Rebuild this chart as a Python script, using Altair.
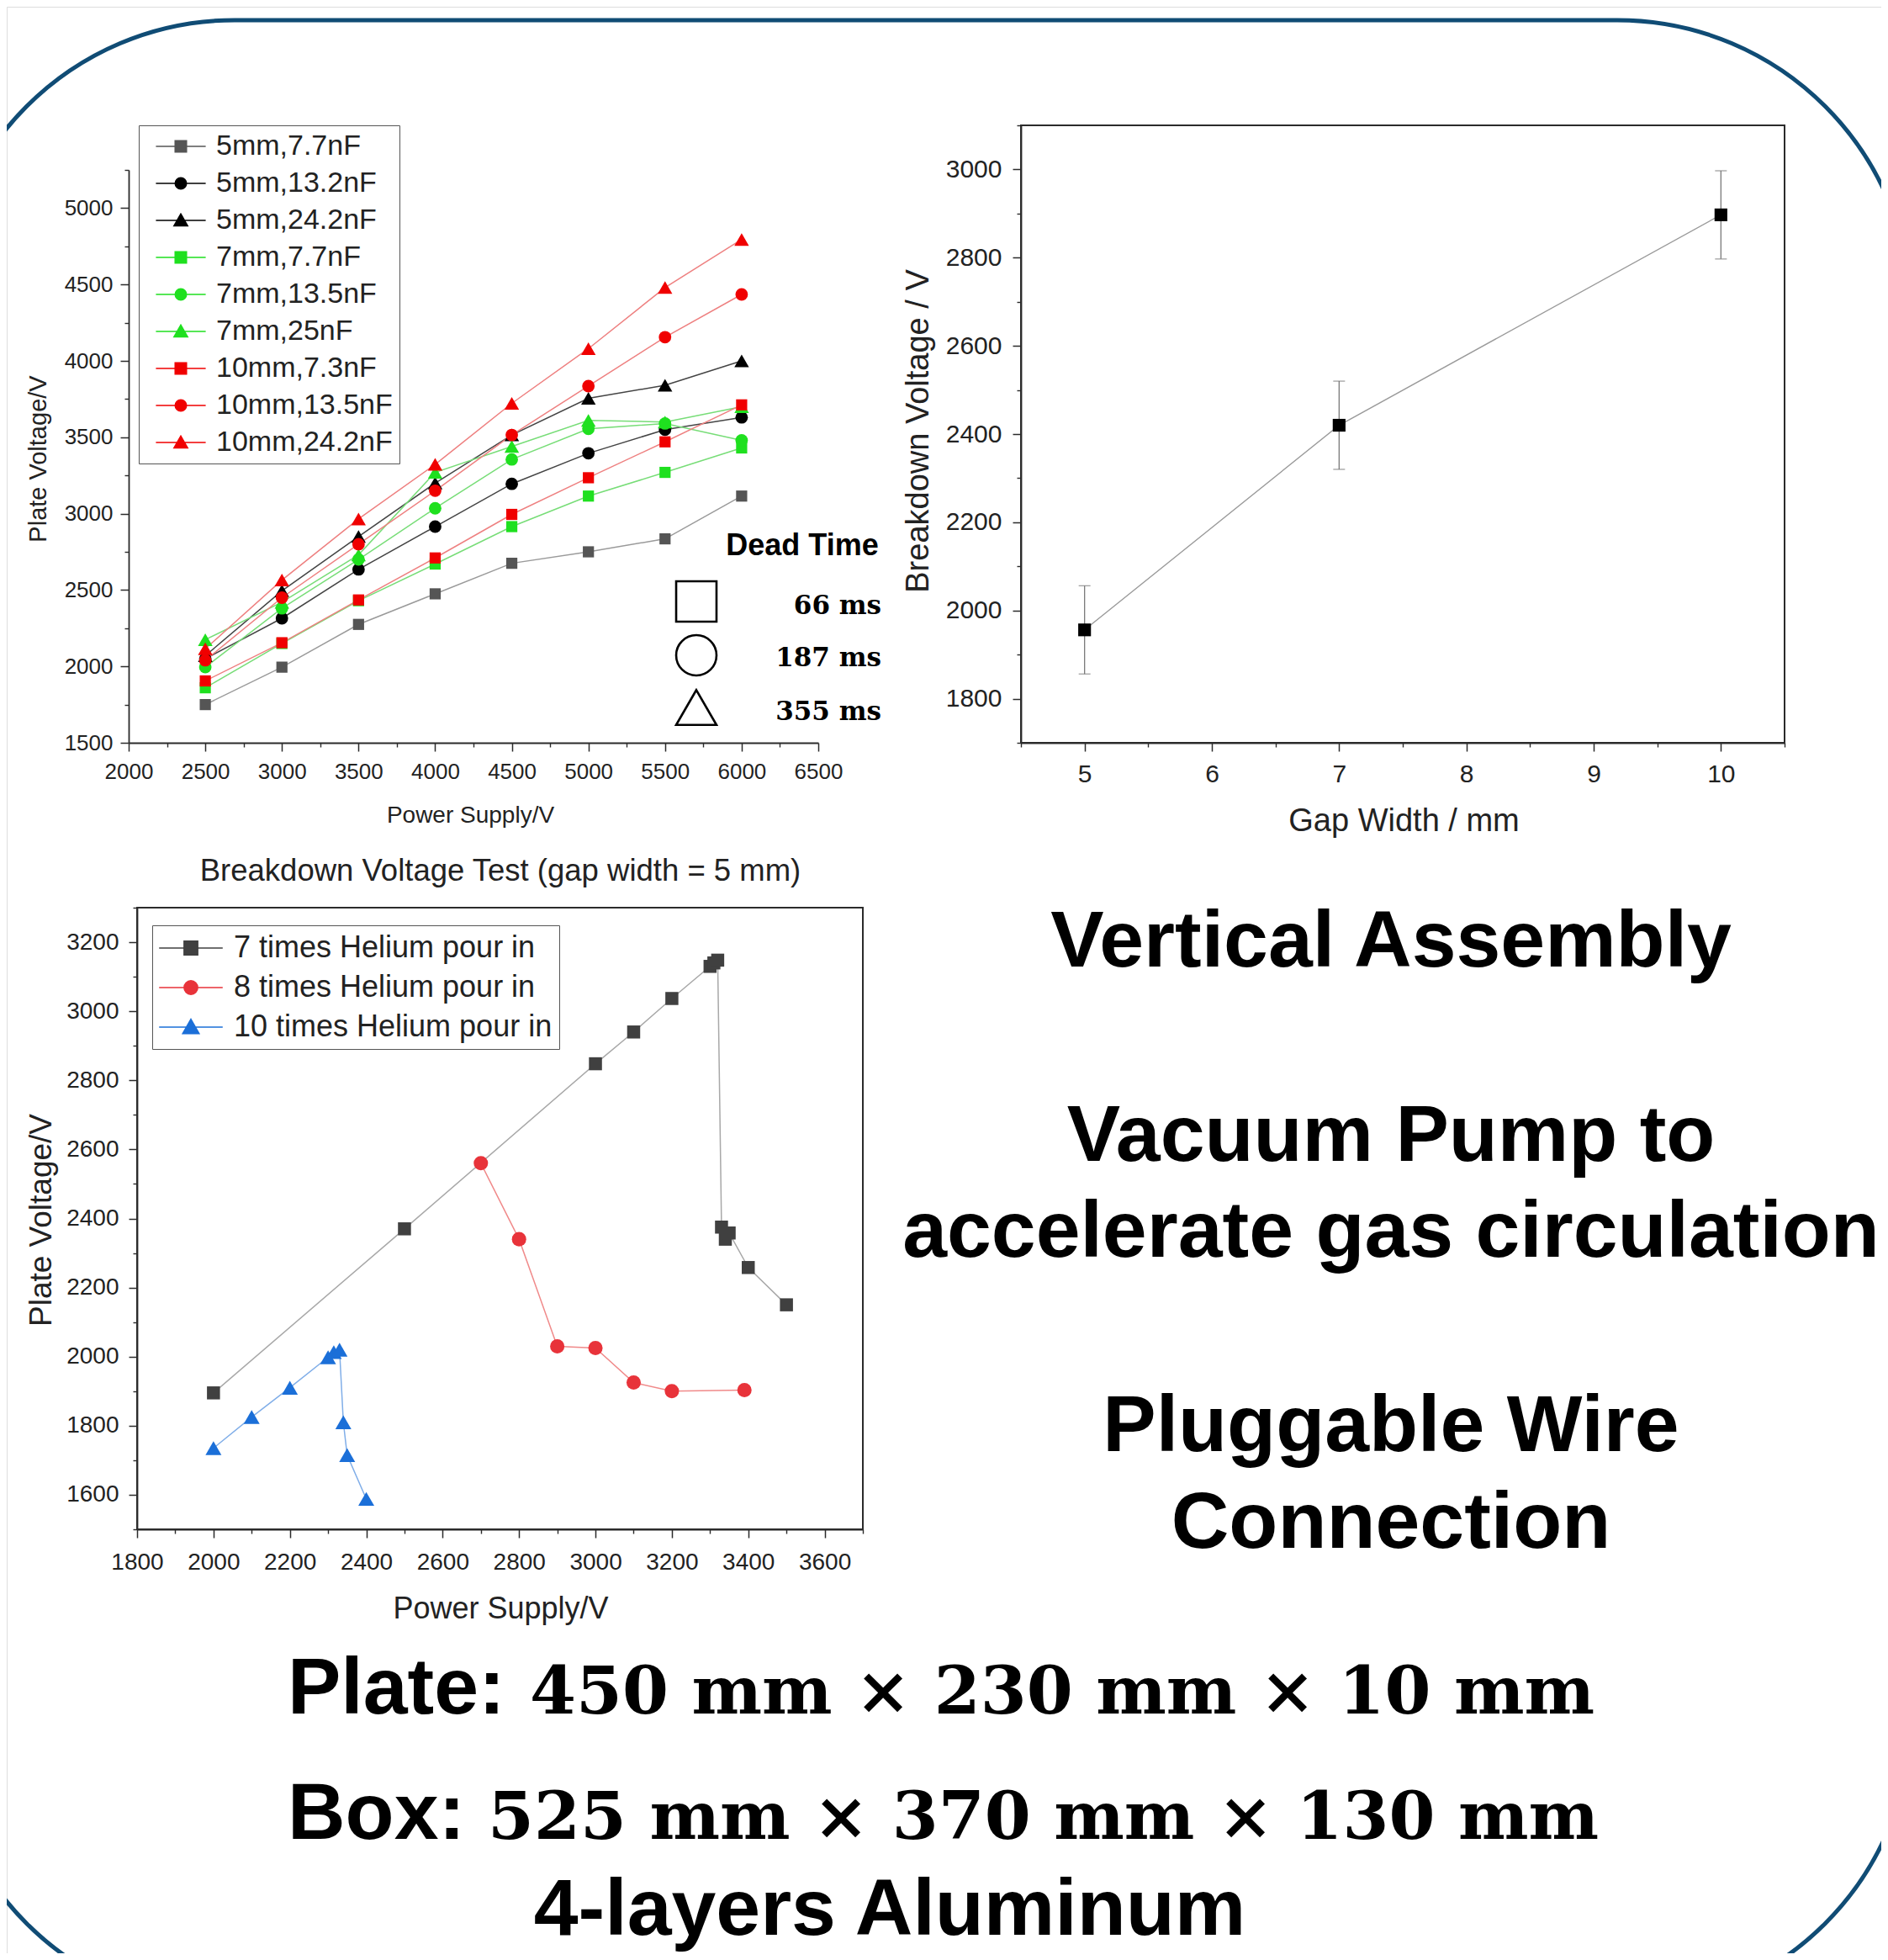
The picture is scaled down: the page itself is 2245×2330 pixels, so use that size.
import altair as alt
import pandas as pd

SANS = "Liberation Sans"
SERIF = "DejaVu Serif"
W, H = 2229, 2314

# ---------------- Panel A : plate voltage vs power supply ----------------
supply_a = [2500, 3000, 3500, 4000, 4500, 5000, 5500, 6000]
series_a = ["5mm,7.7nF", "5mm,13.2nF", "5mm,24.2nF", "7mm,7.7nF", "7mm,13.5nF",
            "7mm,25nF", "10mm,7.3nF", "10mm,13.5nF", "10mm,24.2nF"]
v_5mm_7p7 = [1750, 1995, 2275, 2475, 2675, 2750, 2835, 3115]
v_5mm_13p2 = [2050, 2315, 2635, 2915, 3195, 3395, 3550, 3630]
v_5mm_24p2 = [2070, 2495, 2850, 3200, 3515, 3755, 3840, 4000]
v_7mm_7p7 = [1860, 2150, 2430, 2670, 2915, 3115, 3270, 3430]
v_7mm_13p5 = [1995, 2380, 2700, 3035, 3355, 3555, 3590, 3480]
v_7mm_25 = [2175, 2420, 2730, 3270, 3440, 3610, 3600, 3700]
v_10mm_7p3 = [1905, 2155, 2435, 2710, 2995, 3235, 3470, 3712]
v_10mm_13p5 = [2040, 2450, 2800, 3150, 3515, 3835, 4155, 4435]
v_10mm_24p2 = [2115, 2565, 2965, 3322, 3722, 4080, 4480, 4795]
a_major_x = [2000, 2500, 3000, 3500, 4000, 4500, 5000, 5500, 6000, 6500]
a_major_y = [1500, 2000, 2500, 3000, 3500, 4000, 4500, 5000]
a_dom_x = [2000, 6500]
a_dom_y = [1500, 5250]
dead_title = "Dead Time"
dead_labels = ["66 ms", "187 ms", "355 ms"]
dead_shapes = ["square", "circle", "triangle-up"]

# ---------------- Panel B : breakdown voltage vs gap width ----------------
gap_b = [5, 7, 10]
bv_b = [1956, 2420, 2897]
err_b = [100, 100, 100]
b_major_x = [5, 6, 7, 8, 9, 10]
b_major_y = [1800, 2000, 2200, 2400, 2600, 2800, 3000]
b_dom_x = [4.5, 10.5]
b_dom_y = [1700, 3100]

# ---------------- Panel C : helium pour-in test ----------------
series_c = ["7 times Helium pour in", "8 times Helium pour in", "10 times Helium pour in"]
supply_c7 = [2000, 2500, 3000, 3100, 3200, 3300, 3310, 3320, 3330, 3340, 3350, 3400, 3500]
plate_c7 = [1895, 2370, 2848, 2940, 3037, 3130, 3140, 3148, 2375, 2340, 2358, 2258, 2150]
supply_c8 = [2700, 2800, 2900, 3000, 3100, 3200, 3390]
plate_c8 = [2560, 2340, 2030, 2025, 1925, 1900, 1903]
supply_c10 = [2000, 2100, 2200, 2300, 2315, 2330, 2340, 2350, 2400]
plate_c10 = [1735, 1825, 1910, 1998, 2013, 2020, 1810, 1715, 1588]
c_major_x = [1800, 2000, 2200, 2400, 2600, 2800, 3000, 3200, 3400, 3600]
c_major_y = [1600, 1800, 2000, 2200, 2400, 2600, 2800, 3000, 3200]
c_dom_x = [1800, 3700]
c_dom_y = [1500, 3300]
title_c = "Breakdown Voltage Test (gap width = 5 mm)"

# ---------------- Text blocks ----------------
features = ["Vertical Assembly", "Vacuum Pump to", "accelerate gas circulation",
            "Pluggable Wire", "Connection"]
plate_head, plate_dims = "Plate:", "450 mm \u00d7 230 mm \u00d7 10 mm"
box_head, box_dims = "Box:", "525 mm \u00d7 370 mm \u00d7 130 mm"
layers_text = "4-layers Aluminum"

# ---------------- layout (pixel ranges of each plot area) ----------------
A_X, A_Y = [145, 965], [875, 194]
B_X, B_Y = [1206, 2114], [875, 141]
C_X, C_Y = [155, 1018], [1810, 1071]

# ---------------- styles ----------------
MARK_A = ["square", "circle", "triangle-up"] * 3
PCOL_A = ["#555555", "#000000", "#000000", "#1fe01f", "#1fe01f", "#1fe01f",
          "#f00000", "#f00000", "#f00000"]
LCOL_A = ["#9a9a9a", "#444444", "#444444", "#77dd77", "#77dd77", "#77dd77",
          "#ee8080", "#ee8080", "#ee8080"]
SIZE_BY_MARK = {"square": 175, "circle": 220, "triangle-up": 300}
MARK_C = ["square", "circle", "triangle-up"]
PCOL_C = ["#404040", "#e8333a", "#1b6fd8"]
LCOL_C = ["#a8a8a8", "#f08a8a", "#80aee8"]
SIZE_C = {"square": 240, "circle": 290, "triangle-up": 360}
AXIS_COLOR = "#2b2b2b"


def sym_path(marker, half_line, half):
    line = f"M{-half_line},0H{half_line}"
    if marker == "square":
        m = f"M{-half},{-half}H{half}V{half}H{-half}Z"
    elif marker == "circle":
        m = f"M{-half},0A{half},{half},0,1,1,{half},0A{half},{half},0,1,1,{-half},0Z"
    else:
        m = f"M0,{-half * 1.15}L{half * 1.2},{half * 0.95}H{-half * 1.2}Z"
    return line + m


def minor_values(major, dom):
    step = (major[1] - major[0]) / 2
    minor = [(a + b) / 2 for a, b in zip(major[:-1], major[1:])]
    if major[0] - step >= dom[0] - 1e-9:
        minor.append(major[0] - step)
    if major[-1] + step <= dom[1] + 1e-9:
        minor.append(major[-1] + step)
    return sorted(minor)


def main_axis(orient, offset, major, title, tx, ty, lsize, tsize, lpad):
    return alt.Axis(
        orient=orient, offset=offset, values=list(major), format="d",
        tickSize=10, grid=False, labelFlush=False, labelOverlap=False, labelPadding=lpad,
        labelFont=SANS, labelFontSize=lsize, labelColor="#222222",
        domainColor=AXIS_COLOR, domainWidth=1.8, tickColor=AXIS_COLOR, tickWidth=1.5,
        title=title, titleFont=SANS, titleFontSize=tsize, titleFontWeight="normal",
        titleColor="#222222", titleX=tx, titleY=ty, titleBaseline="middle")


def minor_axis(orient, offset, major, dom):
    return alt.Axis(orient=orient, offset=offset, values=minor_values(major, dom),
                    tickSize=5, tickColor=AXIS_COLOR, tickWidth=1.4, labels=False,
                    domain=False, grid=False, title=None)


def legend(x, y, size, sym_off, lab_off, row_pad, fsize):
    return alt.Legend(orient="none", legendX=x, legendY=y, title=None, fillColor="white",
                      strokeColor="#555555", padding=8, labelFont=SANS, labelFontSize=fsize,
                      labelColor="#222222", labelLimit=900, symbolSize=size,
                      symbolStrokeWidth=1.6, symbolOffset=sym_off, labelOffset=lab_off,
                      rowPadding=row_pad, symbolFillColor="black", symbolStrokeColor="black")


def scale(dom, rng):
    return alt.Scale(domain=dom, range=rng, nice=False, zero=False)


dummy = pd.DataFrame({"k": [0]})
layers = []

# ---- outer rounded frame ----
layers.append(alt.Chart(dummy).mark_rect(cornerRadius=350, fill="transparent",
                                         stroke="#104c75", strokeWidth=5).encode(
    x=alt.value(-79), x2=alt.value(2265), y=alt.value(16), y2=alt.value(2381)))

# ================= Panel A =================
vals_a = [v_5mm_7p7, v_5mm_13p2, v_5mm_24p2, v_7mm_7p7, v_7mm_13p5, v_7mm_25,
          v_10mm_7p3, v_10mm_13p5, v_10mm_24p2]
rows = []
for i, (name, vals) in enumerate(zip(series_a, vals_a)):
    for s, v in zip(supply_a, vals):
        rows.append(dict(series=name, supply=s, voltage=v, marker=MARK_A[i],
                         pcolor=PCOL_A[i], lcolor=LCOL_A[i], msize=SIZE_BY_MARK[MARK_A[i]]))
df_a = pd.DataFrame(rows)
dom_a = pd.DataFrame({"x0": [a_dom_x[0]], "y0": [a_dom_y[0]]})

layers.append(alt.Chart(dom_a).mark_point(opacity=0).encode(
    x=alt.X("x0:Q", scale=scale(a_dom_x, A_X), axis=minor_axis("bottom", A_Y[0] - H, a_major_x, a_dom_x)),
    y=alt.Y("y0:Q", scale=scale(a_dom_y, A_Y), axis=minor_axis("left", -A_X[0], a_major_y, a_dom_y))))
layers.append(alt.Chart(df_a).mark_line(strokeWidth=1.5).encode(
    x=alt.X("supply:Q", scale=scale(a_dom_x, A_X),
            axis=main_axis("bottom", A_Y[0] - H, a_major_x, "Power Supply/V", 551, 86, 26, 28, 11)),
    y=alt.Y("voltage:Q", scale=scale(a_dom_y, A_Y),
            axis=main_axis("left", -A_X[0], a_major_y, "Plate Voltage/V", 37 - A_X[0], 537, 26, 29, 9)),
    detail="series:N",
    color=alt.Color("lcolor:N", scale=None),
    order="supply:Q"))
layers.append(alt.Chart(df_a).mark_point(filled=True, opacity=1).encode(
    x=alt.X("supply:Q", scale=scale(a_dom_x, A_X), axis=None),
    y=alt.Y("voltage:Q", scale=scale(a_dom_y, A_Y), axis=None),
    shape=alt.Shape("marker:N", scale=None),
    color=alt.Color("pcolor:N", scale=None),
    size=alt.Size("msize:Q", scale=None)))
paths_a = [sym_path(m, 1.85, 0.42) for m in MARK_A]
leg_a = legend(157, 141, 1024, 25, 25, 10, 34)
layers.append(alt.Chart(df_a).transform_filter("false").mark_point(
    size=1024, strokeWidth=1.6, opacity=1).encode(
    shape=alt.Shape("series:N", scale=alt.Scale(domain=series_a, range=paths_a), legend=leg_a),
    fill=alt.Fill("series:N", scale=alt.Scale(domain=series_a, range=PCOL_A), legend=leg_a),
    stroke=alt.Stroke("series:N", scale=alt.Scale(domain=series_a, range=PCOL_A), legend=leg_a)))

# dead-time key
layers.append(alt.Chart(dummy).mark_text(font=SANS, fontWeight="bold", fontSize=36, color="black",
                                         align="center", baseline="middle").encode(
    x=alt.value(946), y=alt.value(641), text=alt.value(dead_title)))
for lab, shp, ys, yl in zip(dead_labels, dead_shapes, [707, 771, 833], [713, 775, 839]):
    layers.append(alt.Chart(dummy).mark_point(shape=shp, filled=False, size=2300, color="black",
                                              strokeWidth=2.6, opacity=1).encode(
        x=alt.value(820), y=alt.value(ys)))
    layers.append(alt.Chart(dummy).mark_text(font=SERIF, fontWeight="bold", fontSize=31,
                                             color="black", align="right",
                                             baseline="middle").encode(
        x=alt.value(1040), y=alt.value(yl), text=alt.value(lab)))

# ================= Panel B =================
df_b = pd.DataFrame({"gap": gap_b, "bv": bv_b, "err": err_b})
frame_b = pd.DataFrame({"x0": [b_dom_x[0]], "x1": [b_dom_x[1]],
                        "y0": [b_dom_y[0]], "y1": [b_dom_y[1]]})
layers.append(alt.Chart(frame_b).mark_rect(fill="transparent", stroke=AXIS_COLOR,
                                           strokeWidth=2).encode(
    x=alt.X("x0:Q", scale=scale(b_dom_x, B_X), axis=minor_axis("bottom", B_Y[0] - H, b_major_x, b_dom_x)),
    x2="x1:Q",
    y=alt.Y("y0:Q", scale=scale(b_dom_y, B_Y), axis=minor_axis("left", -B_X[0], b_major_y, b_dom_y)),
    y2="y1:Q"))
base_b = alt.Chart(df_b).transform_calculate(lo="datum.bv - datum.err", hi="datum.bv + datum.err")
layers.append(base_b.mark_line(color="#9a9a9a", strokeWidth=1.4).encode(
    x=alt.X("gap:Q", scale=scale(b_dom_x, B_X),
            axis=main_axis("bottom", B_Y[0] - H, b_major_x, "Gap Width / mm", 1661, 93, 30, 38, 12)),
    y=alt.Y("bv:Q", scale=scale(b_dom_y, B_Y),
            axis=main_axis("left", -B_X[0], b_major_y, "Breakdown Voltage / V", 1084 - B_X[0], 504, 30, 38, 13))))
layers.append(base_b.mark_rule(color="#7a7a7a", strokeWidth=1.3).encode(
    x=alt.X("gap:Q", scale=scale(b_dom_x, B_X), axis=None),
    y=alt.Y("lo:Q", scale=scale(b_dom_y, B_Y), axis=None), y2="hi:Q"))
for fld in ["lo", "hi"]:
    layers.append(base_b.mark_point(shape="stroke", size=196, color="#7a7a7a",
                                    strokeWidth=1.3).encode(
        x=alt.X("gap:Q", scale=scale(b_dom_x, B_X), axis=None),
        y=alt.Y(f"{fld}:Q", scale=scale(b_dom_y, B_Y), axis=None)))
layers.append(base_b.mark_point(shape="square", filled=True, color="black", size=230,
                                opacity=1).encode(
    x=alt.X("gap:Q", scale=scale(b_dom_x, B_X), axis=None),
    y=alt.Y("bv:Q", scale=scale(b_dom_y, B_Y), axis=None)))

# ================= Panel C =================
rows = []
for i, (name, xs, ys) in enumerate(zip(series_c, [supply_c7, supply_c8, supply_c10],
                                       [plate_c7, plate_c8, plate_c10])):
    for j, (s, v) in enumerate(zip(xs, ys)):
        rows.append(dict(series=name, supply=s, voltage=v, idx=j, marker=MARK_C[i],
                         pcolor=PCOL_C[i], lcolor=LCOL_C[i], msize=SIZE_C[MARK_C[i]]))
df_c = pd.DataFrame(rows)
frame_c = pd.DataFrame({"x0": [c_dom_x[0]], "x1": [c_dom_x[1]],
                        "y0": [c_dom_y[0]], "y1": [c_dom_y[1]]})
layers.append(alt.Chart(frame_c).mark_rect(fill="transparent", stroke=AXIS_COLOR,
                                           strokeWidth=2).encode(
    x=alt.X("x0:Q", scale=scale(c_dom_x, C_X), axis=minor_axis("bottom", C_Y[0] - H, c_major_x, c_dom_x)),
    x2="x1:Q",
    y=alt.Y("y0:Q", scale=scale(c_dom_y, C_Y), axis=minor_axis("left", -C_X[0], c_major_y, c_dom_y)),
    y2="y1:Q"))
layers.append(alt.Chart(df_c).mark_line(strokeWidth=1.5).encode(
    x=alt.X("supply:Q", scale=scale(c_dom_x, C_X),
            axis=main_axis("bottom", C_Y[0] - H, c_major_x, "Power Supply/V", 587, 94, 28, 36, 15)),
    y=alt.Y("voltage:Q", scale=scale(c_dom_y, C_Y),
            axis=main_axis("left", -C_X[0], c_major_y, "Plate Voltage/V", 41 - C_X[0], 1442, 28, 37, 12)),
    detail="series:N", color=alt.Color("lcolor:N", scale=None), order="idx:Q"))
layers.append(alt.Chart(df_c).mark_point(filled=True, opacity=1).encode(
    x=alt.X("supply:Q", scale=scale(c_dom_x, C_X), axis=None),
    y=alt.Y("voltage:Q", scale=scale(c_dom_y, C_Y), axis=None),
    shape=alt.Shape("marker:N", scale=None),
    color=alt.Color("pcolor:N", scale=None),
    size=alt.Size("msize:Q", scale=None)))
paths_c = [sym_path(m, 2.1, 0.45) for m in MARK_C]
leg_c = legend(173, 1092, 1296, 19, 32, 10, 36)
layers.append(alt.Chart(df_c).transform_filter("false").mark_point(
    size=1296, strokeWidth=1.6, opacity=1).encode(
    shape=alt.Shape("series:N", scale=alt.Scale(domain=series_c, range=paths_c), legend=leg_c),
    fill=alt.Fill("series:N", scale=alt.Scale(domain=series_c, range=PCOL_C), legend=leg_c),
    stroke=alt.Stroke("series:N", scale=alt.Scale(domain=series_c, range=PCOL_C), legend=leg_c)))
layers.append(alt.Chart(dummy).mark_text(font=SANS, fontSize=36.5, color="#222222",
                                         align="center", baseline="middle").encode(
    x=alt.value(587), y=alt.value(1028), text=alt.value(title_c)))

# ================= Text blocks =================
for t, yb in zip(features, [1141, 1372, 1486, 1717, 1832]):
    layers.append(alt.Chart(dummy).mark_text(font=SANS, fontWeight="bold", fontSize=95,
                                             color="black", align="center",
                                             baseline="alphabetic").encode(
        x=alt.value(1646), y=alt.value(yb), text=alt.value(t)))
for head, dims, yb, xd in [(plate_head, plate_dims, 2029, 622), (box_head, box_dims, 2178, 572)]:
    layers.append(alt.Chart(dummy).mark_text(font=SANS, fontWeight="bold", fontSize=95,
                                             color="black", align="left",
                                             baseline="alphabetic").encode(
        x=alt.value(334), y=alt.value(yb), text=alt.value(head)))
    layers.append(alt.Chart(dummy).mark_text(font=SERIF, fontWeight="bold", fontSize=79,
                                             color="black", align="left",
                                             baseline="alphabetic").encode(
        x=alt.value(xd), y=alt.value(yb), text=alt.value(dims)))
layers.append(alt.Chart(dummy).mark_text(font=SANS, fontWeight="bold", fontSize=95,
                                         color="black", align="center",
                                         baseline="alphabetic").encode(
    x=alt.value(1050), y=alt.value(2292), text=alt.value(layers_text)))

chart = alt.layer(*layers).resolve_scale(
    x="independent", y="independent", shape="independent", fill="independent",
    stroke="independent").resolve_axis(x="independent", y="independent").resolve_legend(
    shape="independent", fill="independent", stroke="independent").properties(
    width=W, height=H, autosize=alt.AutoSizeParams(type="none"), padding=0,
    background="white").configure_view(strokeWidth=0).configure(font=SANS)

chart.save("out.html", embed_options={"renderer": "svg", "actions": False})
